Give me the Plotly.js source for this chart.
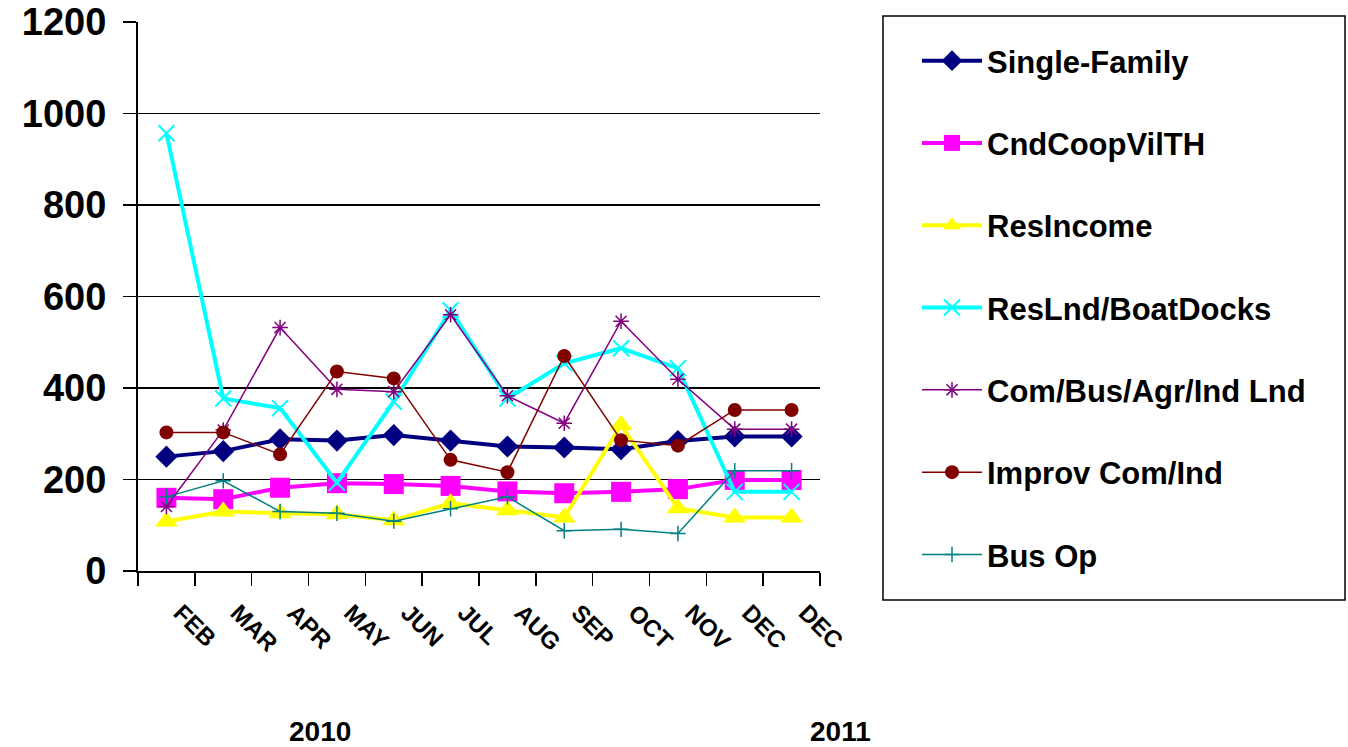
<!DOCTYPE html>
<html>
<head>
<meta charset="utf-8">
<script src="https://cdn.plot.ly/plotly-3.0.1.min.js"></script>
<style>html,body{margin:0;padding:0;background:#fff;}#chart{width:1348px;height:747px;}</style>
</head>
<body>
<div id="chart"></div>
<script>
const months = ["FEB","MAR","APR","MAY","JUN","JUL","AUG","SEP","OCT","NOV","DEC","DEC"];
const singleFamily = [250, 262, 288, 285, 297, 285, 272, 270, 266, 284, 294, 294];
const cndCoop = [160, 157, 182, 192, 190, 186, 174, 170, 173, 179, 199, 199];
const resIncome = [108, 130, 126, 124, 111, 148, 133, 117, 319, 137, 117, 117];
const resLnd = [957, 377, 356, 193, 370, 570, 377, 454, 487, 443, 173, 173];
const comBus = [141, 308, 532, 397, 392, 560, 383, 323, 546, 419, 310, 310];
const improv = [303, 303, 255, 436, 421, 243, 216, 470, 286, 274, 352, 352];
const busOp = [162, 197, 130, 126, 109, 136, 162, 88, 91, 82, 219, 219];
const yearLabels = ["2010", "2011"];

const xIdx = months.map((m, i) => i);
const boundaries = months.map((m, i) => i - 0.5).concat([months.length - 0.5]);
const tickText = months.map(m => '\u00A0\u00A0\u00A0' + m);

function tr(name, y, color, lw, symbol, size, mline) {
  return {
    type: 'scatter', mode: 'lines+markers', name: name, x: xIdx, y: y,
    legendgroup: name,
    line: {color: color, width: lw},
    marker: {symbol: symbol, size: size, color: color, line: {color: color, width: mline || 0}},
    hoverinfo: 'x+y'
  };
}

const data = [
  tr('Single-Family', singleFamily, '#000080', 4, 'diamond', 17),
  tr('CndCoopVilTH', cndCoop, '#FF00FF', 4, 'square', 20),
  tr('ResIncome', resIncome, '#FFFF00', 4, 'triangle-up', 20),
  tr('ResLnd/BoatDocks', resLnd, '#00FFFF', 4, 'x-thin-open', 16, 2),
  tr('Com/Bus/Agr/Ind Lnd', comBus, '#800080', 1.5, 'asterisk-open', 13, 1.5),
  tr('Improv Com/Ind', improv, '#800000', 1.5, 'circle', 14),
  tr('Bus Op', busOp, '#008080', 1.5, 'cross-thin-open', 11, 1.5)
];

const fontFam = 'Liberation Sans, Arial, sans-serif';

const layout = {
  width: 1348, height: 747,
  margin: {l: 138, r: 528, t: 22, b: 176},
  paper_bgcolor: '#fff', plot_bgcolor: '#fff',
  showlegend: true,
  font: {family: fontFam, color: '#000'},
  xaxis: {
    range: [-0.5, months.length - 0.5],
    tickmode: 'array', tickvals: xIdx, ticktext: tickText,
    ticks: '', tickangle: 45,
    tickfont: {family: fontFam, size: 24, weight: 'bold', color: '#000'},
    ticklabelstandoff: 2,
    showgrid: false, zeroline: false,
    showline: true, linecolor: '#000', linewidth: 2,
    minor: {tickmode: 'array', tickvals: boundaries, ticks: 'outside', ticklen: 13, tickwidth: 1.5, tickcolor: '#000', showgrid: false},
    fixedrange: true
  },
  yaxis: {
    range: [0, 1200], dtick: 200, tick0: 0,
    ticks: 'outside', ticklen: 13, tickwidth: 1.5, tickcolor: '#000',
    tickfont: {family: fontFam, size: 38, weight: 'bold', color: '#000'},
    ticklabelstandoff: 9,
    showgrid: true, gridcolor: '#000', gridwidth: 1.8,
    zeroline: false,
    showline: true, linecolor: '#000', linewidth: 2,
    fixedrange: true
  },
  legend: {
    x: (917 - 138) / 682, y: (571 - 34) / 549, xanchor: 'left', yanchor: 'top',
    bgcolor: 'rgba(0,0,0,0)', borderwidth: 0,
    font: {family: fontFam, size: 31, weight: 'bold', color: '#000'},
    itemwidth: 60, tracegroupgap: 39, traceorder: 'grouped'
  },
  shapes: [{
    type: 'rect', xref: 'paper', yref: 'paper',
    x0: (883 - 138) / 682, x1: (1345 - 138) / 682,
    y0: (571 - 600) / 549, y1: (571 - 16) / 549,
    line: {color: '#000', width: 1.5}, fillcolor: 'rgba(0,0,0,0)'
  }],
  annotations: [
    {text: yearLabels[0], xref: 'paper', yref: 'paper', x: (319.5 - 138) / 682, y: (571 - 731.7) / 549, xanchor: 'center', yanchor: 'middle', showarrow: false, font: {family: fontFam, size: 28, weight: 'bold', color: '#000'}},
    {text: yearLabels[1], xref: 'paper', yref: 'paper', x: (840.5 - 138) / 682, y: (571 - 731.7) / 549, xanchor: 'center', yanchor: 'middle', showarrow: false, font: {family: fontFam, size: 28, weight: 'bold', color: '#000'}}
  ]
};

Plotly.newPlot('chart', data, layout, {displayModeBar: false, staticPlot: true});
</script>
</body>
</html>
